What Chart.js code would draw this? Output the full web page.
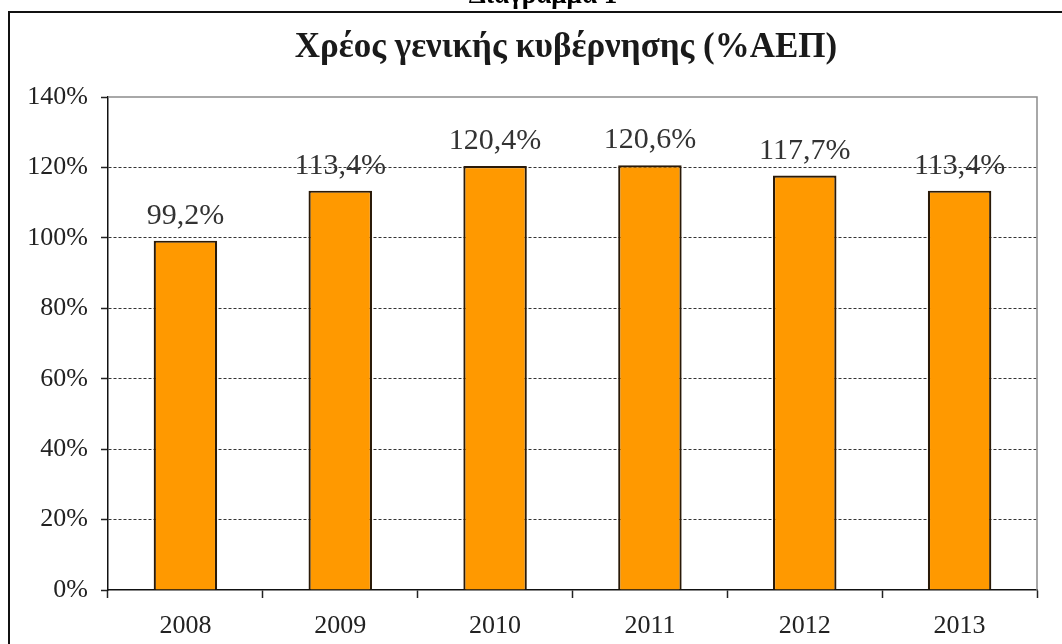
<!DOCTYPE html>
<html>
<head>
<meta charset="utf-8">
<title>Χρέος γενικής κυβέρνησης</title>
<script src="https://cdn.jsdelivr.net/npm/chart.js"></script>
<style>
  html, body { margin: 0; padding: 0; background: #ffffff; }
  #wrap { width: 1062px; height: 644px; }
</style>
</head>
<body>
<div id="wrap"><canvas id="chart" width="1062" height="644"></canvas></div>
<script>
const years = ["2008", "2009", "2010", "2011", "2012", "2013"];
const debtPct = [99.2, 113.4, 120.4, 120.6, 117.7, 113.4];
const yTicks = [0, 20, 40, 60, 80, 100, 120, 140];

const serif = "'Liberation Serif', 'Times New Roman', serif";

// frame, headings, plot border and value labels
const decor = {
  id: "decor",
  beforeDraw(chart) {
    const ctx = chart.ctx;
    ctx.save();
    ctx.fillStyle = "#fff";
    ctx.fillRect(0, 0, chart.width, chart.height);
    ctx.restore();
  },
  afterDraw(chart) {
    const ctx = chart.ctx;
    const a = chart.chartArea;
    ctx.save();
    // outer frame
    ctx.strokeStyle = "#111";
    ctx.lineWidth = 2;
    ctx.beginPath();
    ctx.moveTo(9, 700);
    ctx.lineTo(9, 12);
    ctx.lineTo(1100, 12);
    ctx.stroke();
    // plot border top + right
    ctx.strokeStyle = "#8c8c8c";
    ctx.lineWidth = 1.5;
    ctx.beginPath();
    ctx.moveTo(a.left, a.top);
    ctx.lineTo(a.right, a.top);
    ctx.lineTo(a.right, a.bottom);
    ctx.stroke();
    // headings
    ctx.fillStyle = "#000";
    ctx.textAlign = "center";
    ctx.textBaseline = "alphabetic";
    ctx.font = "bold 27px " + serif;
    ctx.fillText("Διάγραμμα 1", 543, 3);
    ctx.fillStyle = "#1a1a1a";
    ctx.font = "bold 35px " + serif;
    ctx.fillText("Χρέος γενικής κυβέρνησης (%ΑΕΠ)", 566, 57);
    // value labels
    ctx.fillStyle = "#333";
    ctx.font = "30px " + serif;
    const meta = chart.getDatasetMeta(0);
    meta.data.forEach((bar, i) => {
      const txt = debtPct[i].toFixed(1).replace(".", ",") + "%";
      ctx.fillText(txt, bar.x, bar.y - 17);
    });
    ctx.restore();
  }
};

new Chart(document.getElementById("chart").getContext("2d"), {
  type: "bar",
  data: {
    labels: years,
    datasets: [{
      data: debtPct,
      backgroundColor: "#ff9900",
      borderColor: "#2a1a08",
      borderWidth: 2.2,
      borderSkipped: "bottom",
      categoryPercentage: 1,
      barPercentage: 0.41
    }]
  },
  options: {
    responsive: false,
    animation: false,
    layout: { padding: { top: 97, right: 25, left: 0, bottom: 0 } },
    plugins: {
      legend: { display: false },
      tooltip: { enabled: false },
      title: { display: false }
    },
    scales: {
      x: {
        afterFit(scale) { scale.height = 54; },
        grid: {
          drawOnChartArea: false,
          drawTicks: true,
          tickLength: 8,
          tickColor: "#222",
          tickWidth: 1.5
        },
        border: { color: "#111", width: 1.5 },
        ticks: {
          color: "#222",
          padding: 13,
          font: { family: serif, size: 26 }
        }
      },
      y: {
        min: 0,
        max: 140,
        afterFit(scale) { scale.width = 108; },
        afterBuildTicks(scale) { scale.ticks = yTicks.map(v => ({ value: v })); },
        grid: {
          color: ctx => (ctx.tick && (ctx.tick.value === 140 || ctx.tick.value === 0)) ? "rgba(0,0,0,0)" : "#333",
          lineWidth: 1,
          drawTicks: true,
          tickLength: 7,
          tickColor: "#222",
          tickWidth: 1.5
        },
        border: { color: "#111", width: 1.5, dash: [3, 2] },
        ticks: {
          color: "#222",
          padding: 13,
          font: { family: serif, size: 26 },
          callback: v => v + "%"
        }
      }
    }
  },
  plugins: [decor]
});
</script>
</body>
</html>
